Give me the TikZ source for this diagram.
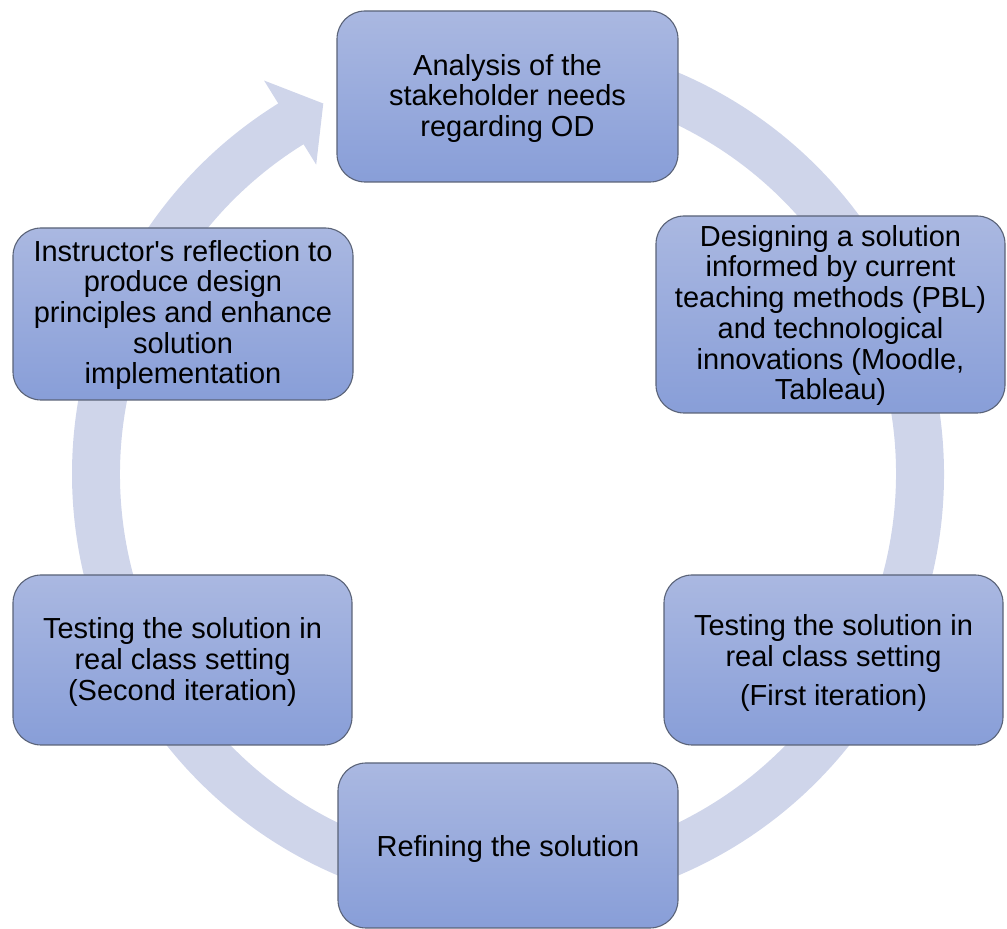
\documentclass[tikz,border=0pt]{standalone}
\usepackage{fontspec}
\setmainfont{Liberation Sans}
\definecolor{ringc}{RGB}{207,213,234}
\definecolor{boxtop}{RGB}{170,184,225}
\definecolor{boxbot}{RGB}{136,158,216}
\definecolor{boxline}{RGB}{90,99,120}
\tikzset{
  stagebox/.style={draw=boxline, line width=1.1pt, rounded corners=28pt,
    top color=boxtop, bottom color=boxbot, inner sep=0pt},
  stagetext/.style={align=center, inner sep=0pt,
    font=\fontsize{29}{30.7}\selectfont, text=black},
}
\begin{document}
\begin{tikzpicture}[x=1pt,y=1pt]
\useasboundingbox (0,0) rectangle (1007,929);
% circular arrow ring
\begin{scope}[shift={(508,455)}]
\fill[ringc] (95:436) arc[start angle=95, end angle=-238.2, radius=436]
  -- (-238.2:463) -- (-243.5:414) -- (-238.2:364) -- (-238.2:388)
  arc[start angle=-238.2, end angle=95, radius=388] -- cycle;
\end{scope}
% stages
\node[stagebox, minimum width=341pt, minimum height=171pt] (a) at (507.5,832.5) {};
\node[stagetext] (ta) at ([yshift=-2pt]a.center)
  {Analysis of the\\stakeholder needs\\regarding OD};
\node[stagebox, minimum width=349pt, minimum height=197pt] (b) at (830.5,614.5) {};
\node[stagetext] (tb) at ([yshift=-1pt]b.center)
  {Designing a solution\\informed by current\\teaching methods (PBL)\\and technological\\innovations (Moodle,\\Tableau)};
\node[stagebox, minimum width=339pt, minimum height=170pt] (c) at (833.5,269) {};
\node[stagetext] (tc) at ([yshift=-3pt]c.center)
  {Testing the solution in\\real class setting\\[9pt](First iteration)};
\node[stagebox, minimum width=340pt, minimum height=165pt] (d) at (508,83.5) {};
\node[stagetext] (td) at ([yshift=-4pt]d.center) {Refining the solution};
\node[stagebox, minimum width=339pt, minimum height=170pt] (e) at (182.5,269) {};
\node[stagetext] (te) at ([yshift=-2pt]e.center)
  {Testing the solution in\\real class setting\\(Second iteration)};
\node[stagebox, minimum width=340pt, minimum height=172pt] (f) at (183,615) {};
\node[stagetext] (tf) at ([yshift=-1pt]f.center)
  {Instructor\textquotesingle s reflection to\\produce design\\principles and enhance\\solution\\implementation};
\end{tikzpicture}
\end{document}
